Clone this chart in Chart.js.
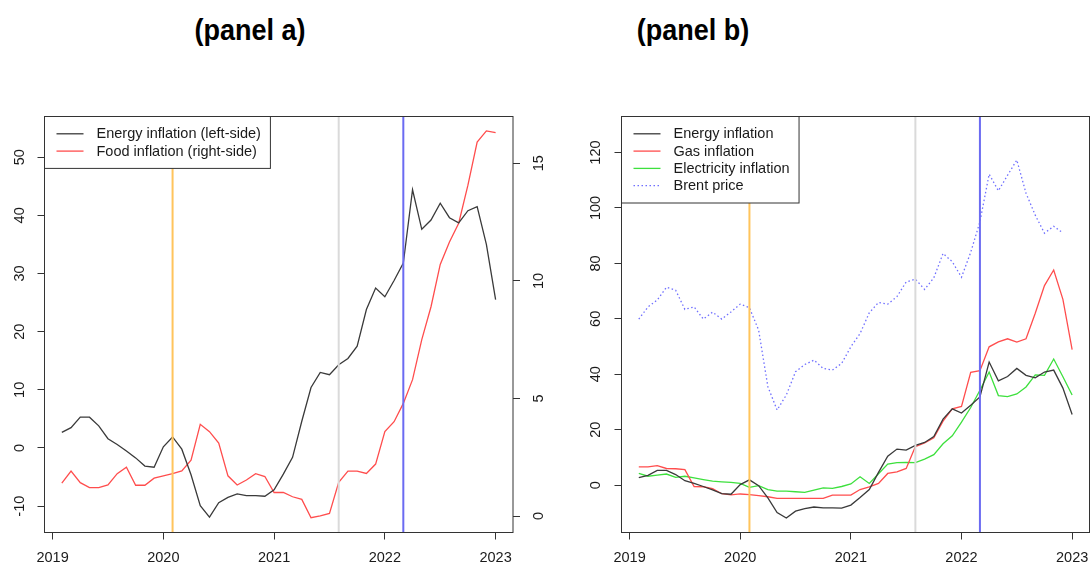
<!DOCTYPE html>
<html>
<head>
<meta charset="utf-8">
<script src="https://cdn.jsdelivr.net/npm/chart.js@4.4.1/dist/chart.umd.min.js"></script>
<style>
    body { margin: 0; width: 1091px; height: 565px; background: #fff; position: relative; overflow: hidden; }
    .title { position: absolute; top: 13px; width: 220px; text-align: center; font-family: 'Liberation Sans', Arial, sans-serif; font-weight: bold; font-size: 30px; color: #000; transform: scaleX(0.9); transform-origin: center; }
    #titleA { left: 140px; }
    #titleB { left: 583px; }
    .panel { position: absolute; top: 60px; }
    #panelA { left: 0; }
    #panelB { left: 560px; }
</style>
</head>
<body>
<div class="title" id="titleA">(panel a)</div>
<div class="title" id="titleB">(panel b)</div>
<canvas class="panel" id="panelA" width="560" height="505"></canvas>
<canvas class="panel" id="panelB" width="531" height="505"></canvas>
<script>
/* DATA */

var months = [
    '2019-02', '2019-03', '2019-04', '2019-05', '2019-06', '2019-07', '2019-08', '2019-09', '2019-10', '2019-11', '2019-12', '2020-01',
    '2020-02', '2020-03', '2020-04', '2020-05', '2020-06', '2020-07', '2020-08', '2020-09', '2020-10', '2020-11', '2020-12', '2021-01',
    '2021-02', '2021-03', '2021-04', '2021-05', '2021-06', '2021-07', '2021-08', '2021-09', '2021-10', '2021-11', '2021-12', '2022-01',
    '2022-02', '2022-03', '2022-04', '2022-05', '2022-06', '2022-07', '2022-08', '2022-09', '2022-10', '2022-11', '2022-12', '2023-01'
];

var energyInflation = [
    2.7, 3.5, 5.3, 5.3, 3.8, 1.6, 0.6, -0.5, -1.7, -3.1, -3.3, 0.2,
    1.9, -0.2, -4.6, -9.9, -11.9, -9.4, -8.5, -7.9, -8.2, -8.2, -8.3, -7.2,
    -4.5, -1.6, 4.6, 10.4, 13.0, 12.6, 14.3, 15.4, 17.5, 23.8, 27.5, 26.0,
    28.8, 31.8, 44.4, 37.6, 39.2, 42.1, 39.6, 38.7, 40.8, 41.5, 35.0, 25.5
];

var foodInflation = [
    1.40, 1.91, 1.42, 1.21, 1.21, 1.32, 1.80, 2.08, 1.31, 1.31, 1.61, 1.71,
    1.80, 1.92, 2.38, 3.90, 3.59, 3.10, 1.71, 1.32, 1.53, 1.80, 1.68, 1.00,
    1.00, 0.82, 0.71, -0.07, 0.01, 0.11, 1.43, 1.91, 1.91, 1.81, 2.21, 3.59,
    4.01, 4.79, 5.80, 7.50, 8.90, 10.70, 11.65, 12.45, 14.07, 15.90, 16.38, 16.30
];

var gasInflation = [
    6.6, 6.6, 7.0, 6.0, 5.9, 5.6, -0.5, -0.6, -1.3, -3.1, -3.5, -3.2,
    -3.4, -3.8, -4.2, -4.8, -4.8, -4.8, -4.8, -4.8, -4.8, -3.6, -3.6, -3.6,
    -1.6, -0.6, 0.6, 4.2, 4.8, 6.0, 13.9, 15.2, 17.1, 23.1, 27.5, 28.4,
    40.7, 41.3, 49.9, 51.7, 52.8, 51.6, 52.8, 62.0, 72.0, 77.6, 67.0, 48.9
];

var electricityInflation = [
    4.2, 3.2, 3.6, 4.0, 2.8, 3.2, 2.6, 2.0, 1.4, 1.2, 1.0, 0.6,
    -0.8, -0.2, -1.6, -2.2, -2.2, -2.4, -2.6, -1.8, -1.0, -1.2, -0.5, 0.4,
    3.0, 0.6, 4.1, 7.6, 8.1, 8.2, 8.1, 9.4, 11.0, 14.9, 17.8, 22.7,
    28.0, 34.2, 40.8, 32.3, 31.9, 32.9, 35.4, 39.8, 39.6, 45.5, 39.1, 32.5
];

// Brent stops one month earlier (Dec 2022)
var brentPrice = [
    59.9, 64.3, 66.8, 71.4, 70.3, 63.4, 64.3, 59.9, 62.4, 59.9, 62.5, 65.3,
    64.0, 55.9, 35.5, 27.1, 32.5, 40.9, 43.5, 45.1, 42.1, 41.5, 43.9, 49.9,
    54.7, 62.2, 65.9, 65.3, 68.0, 73.3, 74.3, 70.6, 74.8, 83.6, 80.6, 75.0,
    84.0, 95.0, 112.2, 106.2, 111.8, 117.3, 105.3, 97.4, 90.9, 93.4, 91.0
];

var eventMonths = ['2020-02', '2021-08', '2022-03'];

var yearTicks = [2019, 2020, 2021, 2022, 2023];
var energyTicks = [-10, 0, 10, 20, 30, 40, 50];
var foodTicks = [0, 5, 10, 15];
var panelBTicks = [0, 20, 40, 60, 80, 100, 120];

/* HELPERS */

var FONT = { family: "'Liberation Sans', Arial, sans-serif", size: 14.5 };
var INK = '#1a1a1a';
var EVENT_COLORS = ['#ffc45c', '#dadada', '#6b6bf2'];

var toYear = (m) => {
    var parts = m.split('-');
    return parseInt(parts[0], 10) + (parseInt(parts[1], 10) - 1) / 12;
};

var toPoints = (values) => values.map((v, i) => ({ x: toYear(months[i]), y: v }));

var tickGrid = { drawOnChartArea: false, drawTicks: true, tickLength: 7, color: '#333', lineWidth: 1 };

var xScale = () => ({
    type: 'linear',
    position: 'bottom',
    min: 2018.927,
    max: 2023.157,
    afterBuildTicks: s => { s.ticks = yearTicks.map(v => ({ value: v })); },
    // fixed height, and no extra room for the end labels: the plot region stays as in R
    afterFit: s => { s.height = 32.5; s.paddingLeft = 0; s.paddingRight = 0; },
    grid: tickGrid,
    border: { display: false },
    ticks: { font: FONT, color: INK, padding: 10, maxRotation: 0, autoSkip: false, callback: v => String(v) }
});

var yScale = (position, min, max, ticks, width, padding) => ({
    type: 'linear',
    position: position,
    min: min,
    max: max,
    afterBuildTicks: s => { s.ticks = ticks.map(v => ({ value: v })); },
    afterFit: s => { s.width = width; s.paddingTop = 0; s.paddingBottom = 0; },
    grid: tickGrid,
    border: { display: false },
    ticks: { font: FONT, color: INK, padding: padding, minRotation: 90, maxRotation: 90, crossAlign: 'center', autoSkip: false, callback: v => String(v) }
});

// event lines, R-style legend box and frame around the plot region
var framePlugin = {
    id: 'rframe',
    afterDatasetsDraw: (chart) => {
        var ctx = chart.ctx;
        var a = chart.chartArea;
        var x = chart.scales.x;

        ctx.save();

        eventMonths.forEach((m, i) => {
            var px = x.getPixelForValue(toYear(m));
            ctx.strokeStyle = EVENT_COLORS[i];
            ctx.lineWidth = 2;
            ctx.beginPath();
            ctx.moveTo(px, a.top);
            ctx.lineTo(px, a.bottom);
            ctx.stroke();
        });

        var items = chart.data.datasets;
        var rowH = 17.3;
        ctx.font = FONT.size + 'px ' + FONT.family;
        var textW = Math.max(...items.map(d => ctx.measureText(d.label).width));
        var boxW = 52 + textW + 9.5;
        var boxH = rowH * (items.length + 1);

        ctx.fillStyle = '#fff';
        ctx.fillRect(a.left, a.top, boxW, boxH);
        ctx.strokeStyle = '#333';
        ctx.lineWidth = 1;
        ctx.strokeRect(a.left, a.top, boxW, boxH);

        items.forEach((d, i) => {
            var y = a.top + rowH * (i + 1);
            ctx.strokeStyle = d.borderColor;
            ctx.lineWidth = d.borderWidth;
            ctx.setLineDash(d.borderDash || []);
            ctx.beginPath();
            ctx.moveTo(a.left + 12, y);
            ctx.lineTo(a.left + 39, y);
            ctx.stroke();
            ctx.setLineDash([]);

            ctx.fillStyle = INK;
            ctx.textBaseline = 'middle';
            ctx.textAlign = 'left';
            ctx.fillText(d.label, a.left + 52, y + 0.5);
        });

        ctx.strokeStyle = '#333';
        ctx.lineWidth = 1;
        ctx.strokeRect(a.left, a.top, a.width, a.height);

        ctx.restore();
    }
};

var lineSet = (label, values, color, axis, dash) => ({
    label: label,
    data: toPoints(values),
    borderColor: color,
    borderWidth: 1.3,
    borderDash: dash || [],
    pointRadius: 0,
    tension: 0,
    fill: false,
    yAxisID: axis || 'y'
});

var commonOptions = (scales, padding) => ({
    responsive: false,
    animation: false,
    layout: { padding: padding },
    scales: scales,
    plugins: { legend: { display: false }, tooltip: { enabled: false }, title: { display: false } }
});

/* CHARTS */

new Chart(document.getElementById('panelA'), {
    type: 'line',
    data: {
        datasets: [
            lineSet('Energy inflation (left-side)', energyInflation, '#3a3a3a', 'y'),
            lineSet('Food inflation (right-side)', foodInflation, '#ff4d4d', 'y2')
        ]
    },
    options: commonOptions({
        x: xScale(),
        y: yScale('left', -14.53, 57.0, energyTicks, 44.5, 7.5),
        y2: yScale('right', -0.70, 16.99, foodTicks, 47, 11.4)
    }, { top: 56.5, right: 0, bottom: 0, left: 0 }),
    plugins: [framePlugin]
});

new Chart(document.getElementById('panelB'), {
    type: 'line',
    data: {
        datasets: [
            lineSet('Energy inflation', energyInflation, '#3a3a3a'),
            lineSet('Gas inflation', gasInflation, '#ff4d4d'),
            lineSet('Electricity inflation', electricityInflation, '#3de03d'),
            lineSet('Brent price', brentPrice, '#6f6fff', 'y', [1.5, 2.5])
        ]
    },
    options: commonOptions({
        x: xScale(),
        y: yScale('left', -17.1, 133.0, panelBTicks, 61.5, 6.7)
    }, { top: 56.5, right: 1.5, bottom: 0, left: 0 }),
    plugins: [framePlugin]
});
</script>
</body>
</html>
